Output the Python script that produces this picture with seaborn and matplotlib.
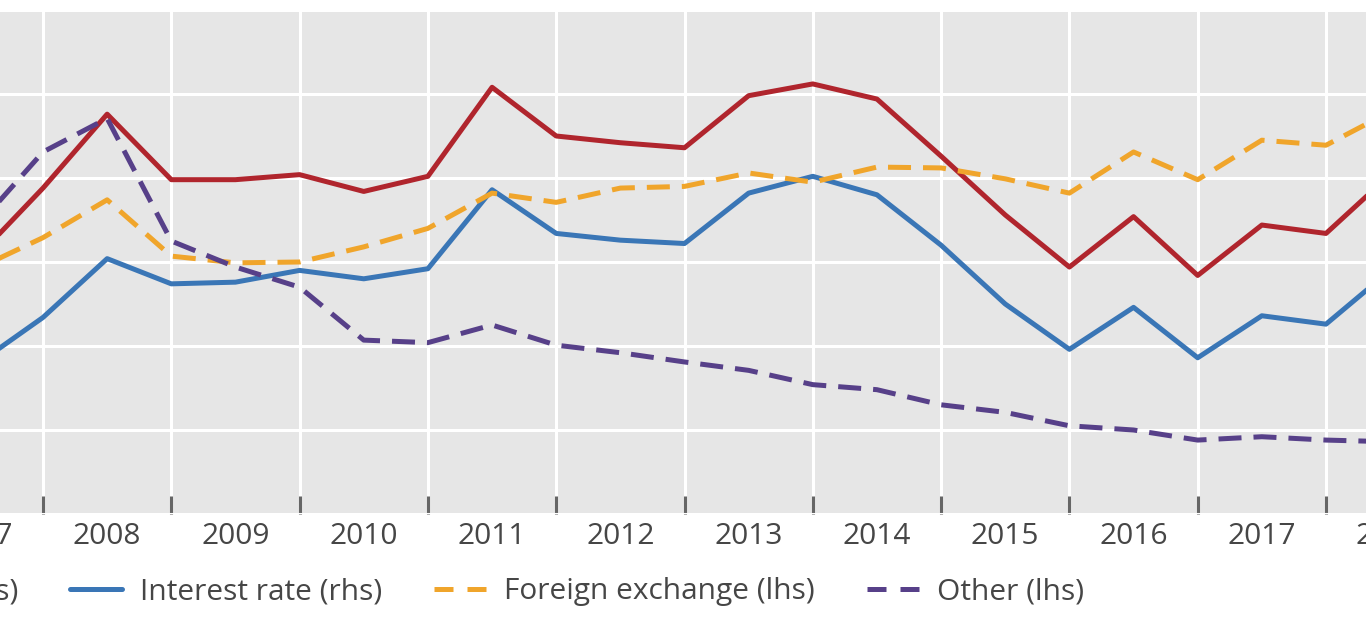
import matplotlib
matplotlib.use("Agg")
import matplotlib.pyplot as plt
from matplotlib.lines import Line2D
import pandas as pd
import seaborn as sns

# ---------------- data (semi-annual) ----------------
periods = ["2007-H1", "2007-H2", "2008-H1", "2008-H2", "2009-H1", "2009-H2",
           "2010-H1", "2010-H2", "2011-H1", "2011-H2", "2012-H1", "2012-H2",
           "2013-H1", "2013-H2", "2014-H1", "2014-H2", "2015-H1", "2015-H2",
           "2016-H1", "2016-H2", "2017-H1", "2017-H2", "2018-H1"]
total_rhs = [15.4, 19.4, 23.8, 19.9, 19.9, 20.2, 19.2, 20.1, 25.4, 22.5, 22.1, 21.8,
             24.9, 25.6, 24.7, 21.3, 17.8, 14.7, 17.7, 14.2, 17.2, 16.7, 20.2]
interest_rate_rhs = [9.0, 11.7, 15.2, 13.7, 13.8, 14.5, 14.0, 14.6, 19.3, 16.7, 16.3, 16.1,
                     19.1, 20.1, 19.0, 16.0, 12.5, 9.8, 12.3, 9.3, 11.8, 11.3, 14.5]
foreign_exchange_lhs = [2.93, 3.29, 3.74, 3.07, 2.99, 3.00, 3.18, 3.40, 3.82, 3.71, 3.88, 3.90,
                        4.06, 3.95, 4.13, 4.12, 3.99, 3.82, 4.31, 3.98, 4.45, 4.39, 4.79]
other_lhs = [3.45, 4.31, 4.71, 3.25, 2.94, 2.70, 2.07, 2.04, 2.25, 2.01, 1.92, 1.81,
             1.71, 1.54, 1.48, 1.30, 1.21, 1.05, 1.00, 0.88, 0.92, 0.88, 0.86]
years = [2007, 2008, 2009, 2010, 2011, 2012, 2013, 2014, 2015, 2016, 2017, 2018]
series_labels = ["Total (rhs)", "Interest rate (rhs)", "Foreign exchange (lhs)", "Other (lhs)"]

# ---------------- styling ----------------
RED = "#b0252d"
BLUE = "#3a76b6"
ORANGE = "#f0a52b"
PURPLE = "#574089"
BG = "#e6e6e6"
TXT = "#464646"
FS = 21.5
LW = 3.6

sns.set_theme(style="darkgrid", rc={"axes.facecolor": BG, "grid.color": "white",
                                    "grid.linewidth": 2.2, "figure.facecolor": "white"})
plt.rcParams["font.family"] = ["Open Sans", "DejaVu Sans"]


def period_to_t(p):
    y, h = p.split("-")
    return int(y) + (0.5 if h == "H1" else 1.0)


df = pd.DataFrame({
    "t": [period_to_t(p) for p in periods],
    "total": total_rhs,
    "ir": interest_rate_rhs,
    "fx": foreign_exchange_lhs,
    "other": other_lhs,
})

W, H = 1366, 620
fig = plt.figure(figsize=(W / 100, H / 100), dpi=100)

# plot area: year boundaries every 128.3 px, 2008 boundary at x=43 px; y from 10 to 514 px
px_per_year = 128.3
x_left_px = 43 - px_per_year          # position of 2007.0
ax_left = x_left_px / W
ax_width = 12 * px_per_year / W
ax_bottom = (H - 514) / H
ax_height = (514 - 10) / H

ax = fig.add_axes([ax_left, ax_bottom, ax_width, ax_height])   # rhs series
sns.lineplot(data=df, x="t", y="total", ax=ax, color=RED, lw=LW)
sns.lineplot(data=df, x="t", y="ir", ax=ax, color=BLUE, lw=LW)
ax.set_ylim(0, 30)
ax.set_yticks([0, 5, 10, 15, 20, 25, 30])
ax.yaxis.tick_right()

ax2 = ax.twinx()                                              # lhs series
sns.lineplot(data=df, x="t", y="fx", ax=ax2, color=ORANGE, lw=LW,
             linestyle=(0, (4.6, 2.4)))
sns.lineplot(data=df, x="t", y="other", ax=ax2, color=PURPLE, lw=LW,
             linestyle=(0, (4.6, 2.4)))
ax2.set_ylim(0, 6)
ax2.set_yticks([0, 1, 2, 3, 4, 5, 6])
ax2.yaxis.tick_left()
ax2.grid(False)

for a in (ax, ax2):
    a.set_xlabel("")
    a.set_ylabel("")
    for s in a.spines.values():
        s.set_visible(False)
    a.tick_params(axis="y", length=0, labelleft=False, labelright=False)

ax.set_xlim(2007.0, 2019.0)
ax.set_xticks(list(range(2007, 2020)))
ax.set_xticks([y + 0.5 for y in years], labels=[str(y) for y in years], minor=True)
ax.tick_params(axis="x", which="major", bottom=True, direction="in", length=13,
               width=2.2, color="#666666", labelbottom=False)
ax.tick_params(axis="x", which="minor", bottom=True, length=0, pad=5.5,
               labelsize=FS, labelcolor=TXT)
ax.grid(which="major", axis="both", color="white", lw=2.2)
ax.grid(which="minor", visible=False)

# ---------------- legend ----------------
handles = [
    Line2D([], [], color=RED, lw=LW),
    Line2D([], [], color=BLUE, lw=LW),
    Line2D([], [], color=ORANGE, lw=LW, linestyle=(0, (3.8, 2.8))),
    Line2D([], [], color=PURPLE, lw=LW, linestyle=(0, (3.8, 2.8))),
]
leg = fig.legend(handles, series_labels, ncol=4, loc="center left",
                 bbox_to_anchor=(0.0, 30 / H), frameon=False, fontsize=FS,
                 handlelength=1.74, handletextpad=0.6, columnspacing=1.74,
                 labelcolor=TXT, borderaxespad=0, borderpad=0)
fig.canvas.draw()
r = fig.canvas.get_renderer()
bb = leg.get_texts()[1].get_window_extent(r)
dx = 140 - bb.x0
dy = 28 - (bb.y0 + bb.y1) / 2
leg.set_bbox_to_anchor((dx / W, (30 + dy) / H), transform=fig.transFigure)

fig.savefig("out.png", dpi=100)
